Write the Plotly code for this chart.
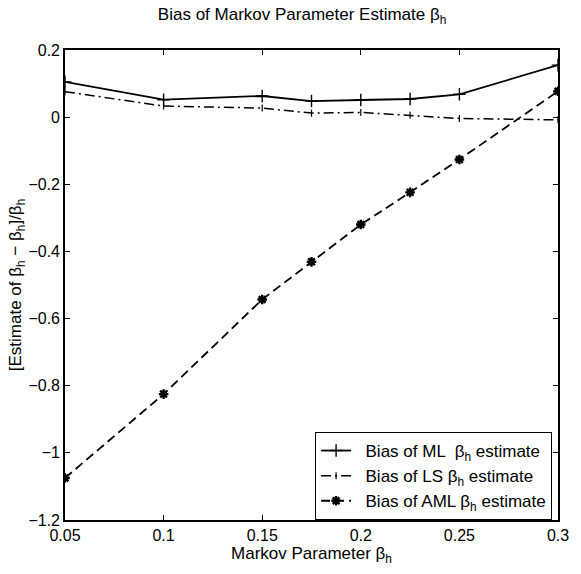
import plotly.graph_objects as go

x_vals = [0.05, 0.1, 0.15, 0.175, 0.2, 0.225, 0.25, 0.3]
ml_bias = [0.105, 0.052, 0.063, 0.048, 0.051, 0.054, 0.068, 0.155]
ls_bias = [0.076, 0.033, 0.027, 0.012, 0.014, 0.006, -0.004, -0.008]
aml_bias = [-1.075, -0.825, -0.543, -0.431, -0.32, -0.224, -0.126, 0.077]

x_ticks = [0.05, 0.1, 0.15, 0.2, 0.25, 0.3]
x_tick_text = ["0.05", "0.1", "0.15", "0.2", "0.25", "0.3"]
y_ticks = [-1.2, -1.0, -0.8, -0.6, -0.4, -0.2, 0, 0.2]
y_tick_text = ["\u22121.2", "\u22121", "\u22120.8", "\u22120.6", "\u22120.4", "\u22120.2", "0", "0.2"]

FONT = "Liberation Sans Narrow, Arial Narrow, Liberation Sans, Arial, sans-serif"
SP = "\u00a0\u00a0"

fig = go.Figure()
fig.add_trace(go.Scatter(
    x=x_vals, y=ml_bias, mode="lines+markers",
    name=SP + "Bias of ML  \u03b2<sub>h</sub> estimate",
    line=dict(color="black", width=1.8, dash="solid"),
    marker=dict(symbol="cross-thin-open", size=9, line=dict(color="black", width=1.4)),
))
fig.add_trace(go.Scatter(
    x=x_vals, y=ls_bias, mode="lines+markers",
    name=SP + "Bias of LS \u03b2<sub>h</sub> estimate",
    line=dict(color="black", width=1.5, dash="10px,4px,2px,4px"),
    marker=dict(symbol="line-ns-open", size=5, line=dict(color="black", width=1.2)),
))
fig.add_trace(go.Scatter(
    x=x_vals, y=aml_bias, mode="lines+markers",
    name=SP + "Bias of AML \u03b2<sub>h</sub> estimate",
    line=dict(color="black", width=1.8, dash="9px,5px"),
    marker=dict(symbol="asterisk-open", size=8, line=dict(color="black", width=2.4)),
))

axis_common = dict(
    showline=True, linecolor="black", linewidth=1.6, mirror="ticks",
    ticks="inside", ticklen=5, tickcolor="black", showgrid=False, zeroline=False,
    tickfont=dict(family=FONT, size=16, color="black"),
)

fig.update_layout(
    width=581, height=574,
    margin=dict(l=65, r=13, t=50, b=54),
    paper_bgcolor="white", plot_bgcolor="white",
    font=dict(family=FONT, color="black", size=16),
    title=dict(text="Bias of Markov Parameter Estimate \u03b2<sub>h</sub>",
               x=0.52, xanchor="center", y=0.975, yanchor="middle",
               font=dict(family=FONT, size=17, color="black")),
    xaxis=dict(range=[0.05, 0.3], tickvals=x_ticks, ticktext=x_tick_text,
               title=dict(text="Markov Parameter \u03b2<sub>h</sub>", standoff=1,
                          font=dict(family=FONT, size=17)),
               **axis_common),
    yaxis=dict(range=[-1.2, 0.2], tickvals=y_ticks, ticktext=y_tick_text,
               title=dict(text="[Estimate of \u03b2<sub>h</sub> \u2212 \u03b2<sub>h</sub>]/\u03b2<sub>h</sub>",
                          standoff=2, font=dict(family=FONT, size=17)),
               **axis_common),
    legend=dict(x=0.988, y=0.0, xanchor="right", yanchor="bottom",
                bordercolor="black", borderwidth=1, bgcolor="white",
                font=dict(family=FONT, size=17, color="black"),
                tracegroupgap=0),
    showlegend=True,
)

fig.write_html("out.html")
